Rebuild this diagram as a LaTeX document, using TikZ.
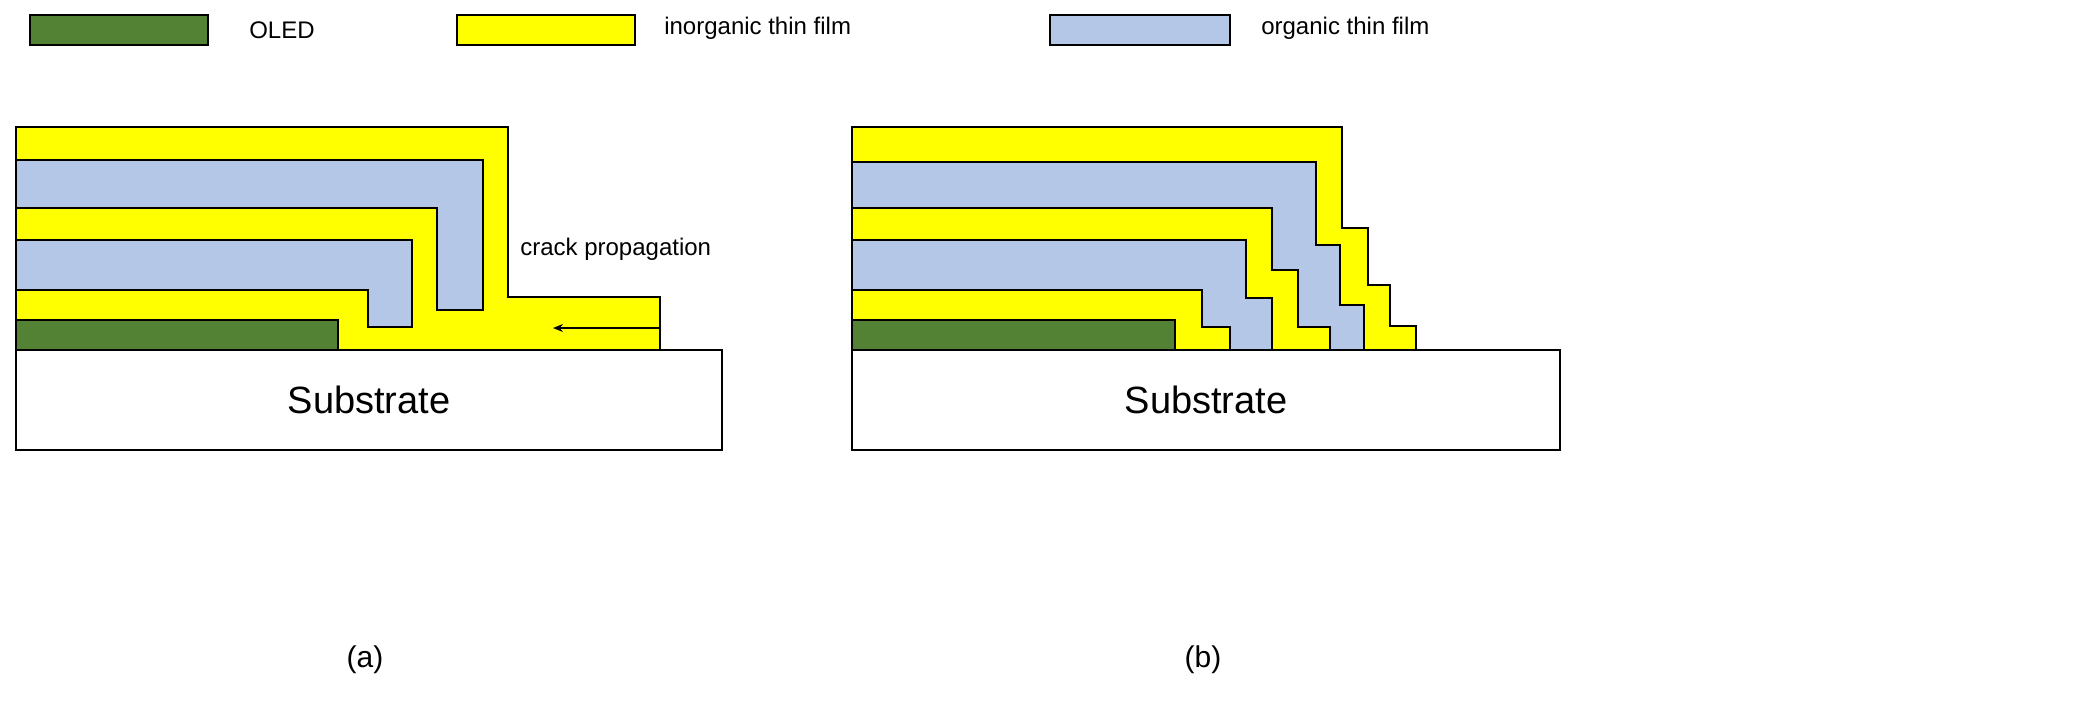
\documentclass[tikz,border=0pt]{standalone}
\usepackage{fontspec}
\setmainfont{Liberation Sans}
\usetikzlibrary{arrows.meta}
\definecolor{oled}{HTML}{548235}
\definecolor{inorg}{HTML}{FFFF00}
\definecolor{org}{HTML}{B4C7E7}
\begin{document}
\begin{tikzpicture}[x=1pt,y=-1pt,line width=2.6pt,line join=miter,
  lay/.style={draw=black},
  lbl/.style={font=\fontsize{24}{28}\selectfont,anchor=west,inner sep=0},
  big/.style={font=\fontsize{38}{44}\selectfont}]
\useasboundingbox (0,0) rectangle (2097,710);
% legend
\node[lay,fill=oled,minimum width=178pt,minimum height=30pt,inner sep=0,line width=2pt] (lo) at (119,30) {};
\node[lbl] (tlo) at (248,30) {OLED};
\node[lay,fill=inorg,minimum width=178pt,minimum height=30pt,inner sep=0,line width=2pt] (li) at (546,30) {};
\node[lbl] (tli) at (663,28) {inorganic thin film};
\node[lay,fill=org,minimum width=180pt,minimum height=30pt,inner sep=0,line width=2pt] (lr) at (1140,30) {};
\node[lbl] (tlr) at (1260,28) {organic thin film};
% (a)
\draw[lay,fill=inorg] (16,127)--(508,127)--(508,297)--(660,297)--(660,350)--(16,350)--cycle;
\draw[lay,fill=org] (16,160)--(483,160)--(483,310)--(437,310)--(437,208)--(16,208)--cycle;
\draw[lay,fill=org] (16,240)--(412,240)--(412,327)--(368,327)--(368,290)--(16,290)--cycle;
\draw[lay,fill=oled] (16,320)--(338,320)--(338,350)--(16,350)--cycle;
\node[draw,minimum width=706pt,minimum height=100pt,inner sep=0,big] (sa) at (369,400) {Substrate};
\coordinate (c1) at (659,328);
\coordinate (c2) at (553,328);
\draw[line width=1.6pt,-{Stealth[length=10pt,width=8pt]}] (c1)--(c2);
\node[lbl] (crack) at (519,249) {crack propagation};
\node[big,font=\fontsize{30}{36}\selectfont] (la) at (365,660) {(a)};
% (b)
\draw[lay,fill=inorg] (852,127)--(1342,127)--(1342,228)--(1368,228)--(1368,285)--(1390,285)--(1390,326)--(1416,326)--(1416,350)--(852,350)--cycle;
\draw[lay,fill=org] (852,162)--(1316,162)--(1316,245)--(1340,245)--(1340,305)--(1364,305)--(1364,350)--(852,350)--cycle;
\draw[lay,fill=inorg] (852,208)--(1272,208)--(1272,270)--(1298,270)--(1298,327)--(1330,327)--(1330,350)--(852,350)--cycle;
\draw[lay,fill=org] (852,240)--(1246,240)--(1246,298)--(1272,298)--(1272,350)--(852,350)--cycle;
\draw[lay,fill=inorg] (852,290)--(1202,290)--(1202,327)--(1230,327)--(1230,350)--(852,350)--cycle;
\draw[lay,fill=oled] (852,320)--(1175,320)--(1175,350)--(852,350)--cycle;
\node[draw,minimum width=708pt,minimum height=100pt,inner sep=0,big] (sb) at (1206,400) {Substrate};
\node[big,font=\fontsize{30}{36}\selectfont] (lb) at (1203,660) {(b)};
\end{tikzpicture}
\end{document}
